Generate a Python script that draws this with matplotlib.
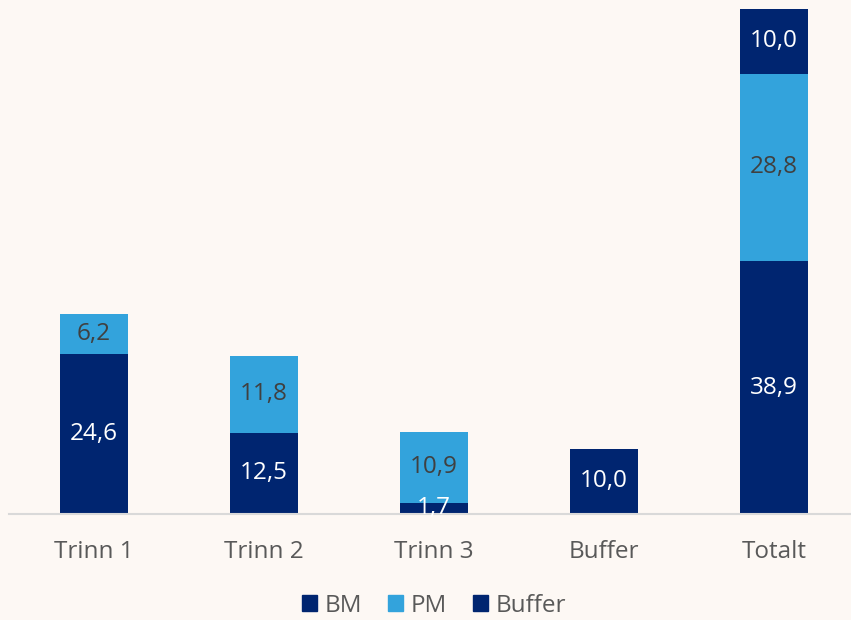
import numpy as np
import matplotlib.pyplot as plt
from matplotlib.patches import Patch

# Data
categories = ['Trinn 1', 'Trinn 2', 'Trinn 3', 'Buffer', 'Totalt']
bm = [24.6, 12.5, 1.7, 0.0, 38.9]
pm = [6.2, 11.8, 10.9, 0.0, 28.8]
buffer = [0.0, 0.0, 0.0, 10.0, 10.0]

navy = '#002570'
light = '#33A3DC'
bg = '#FDF8F4'

plt.rcParams['font.family'] = ['Open Sans', 'DejaVu Sans']

fig = plt.figure(figsize=(8.51, 6.2), dpi=100, facecolor=bg)
ax = fig.add_axes([0.0106, 0.171, 0.9988, 0.821], facecolor=bg)

x = np.arange(len(categories))
w = 0.4
bm_arr = np.array(bm)
pm_arr = np.array(pm)
buf_arr = np.array(buffer)

ax.bar(x, bm_arr, w, color=navy, edgecolor='none')
ax.bar(x, pm_arr, w, bottom=bm_arr, color=light, edgecolor='none')
ax.bar(x, buf_arr, w, bottom=bm_arr + pm_arr, color=navy, edgecolor='none')

def fmt(v):
    return f'{v:.1f}'.replace('.', ',')

for i in range(len(categories)):
    base = 0.0
    for vals, tc in ((bm_arr, 'white'), (pm_arr, '#404040'), (buf_arr, 'white')):
        v = vals[i]
        if v > 0:
            ax.text(x[i], base + v / 2, fmt(v), ha='center', va='center',
                    color=tc, fontsize=17.5)
        base += v

ax.set_xlim(-0.5, 4.5)
ax.set_ylim(0, 78.3)
ax.set_xticks(x)
ax.set_xticklabels(categories, fontsize=17.5, color='#595959')
ax.tick_params(axis='x', length=0, pad=19)
ax.set_yticks([])
for s in ['top', 'right', 'left']:
    ax.spines[s].set_visible(False)
ax.spines['bottom'].set_color('#D9D9D9')
ax.spines['bottom'].set_linewidth(1.5)

handles = [Patch(color=navy, label='BM'), Patch(color=light, label='PM'),
           Patch(color=navy, label='Buffer')]
fig.legend(handles=handles, loc='center', bbox_to_anchor=(0.51, 0.023), ncol=3,
           frameon=False, fontsize=17.5, labelcolor='#595959',
           handlelength=0.6, handleheight=0.6, handletextpad=0.3, columnspacing=1.1)

fig.savefig('out.png', dpi=100, facecolor=bg)
